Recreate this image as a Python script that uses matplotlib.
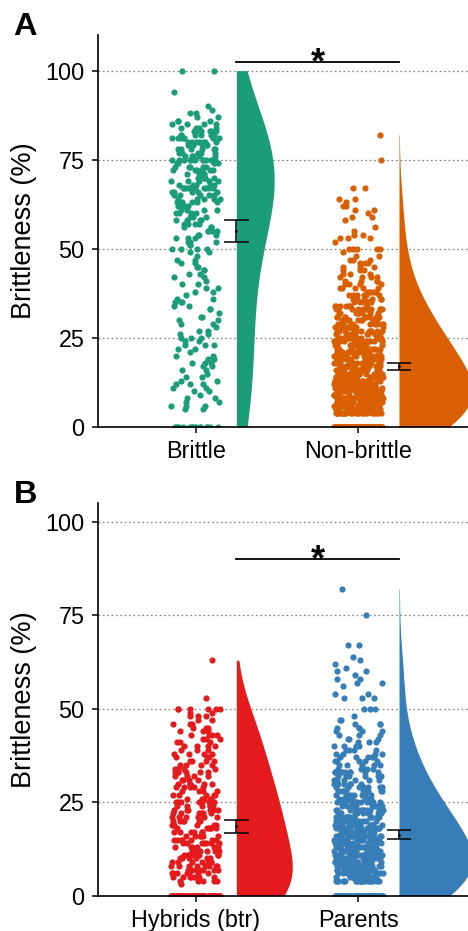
import numpy as np
import matplotlib
matplotlib.use('Agg')
import matplotlib.pyplot as plt
from matplotlib.mlab import GaussianKDE

plt.rcParams['font.family'] = ['Liberation Sans', 'DejaVu Sans']

# ---------------- data (counts of observations at each integer % value) -------------
cats_a = ['Brittle', 'Non-brittle']
colors_a = ['#1b9e77', '#d95f02']
brittle_counts = [16, 0, 0, 0, 0, 2, 3, 2, 2, 1,
                  2, 2, 3, 2, 2, 1, 2, 2, 3, 2,
                  2, 1, 2, 3, 2, 3, 2, 2, 1, 2,
                  2, 2, 1, 2, 2, 3, 2, 1, 2, 2,
                  2, 1, 2, 2, 2, 2, 2, 2, 1, 2,
                  4, 2, 3, 3, 3, 4, 3, 4, 4, 3,
                  4, 4, 4, 5, 5, 5, 5, 10, 5, 5,
                  6, 5, 6, 5, 5, 11, 5, 5, 6, 6,
                  7, 7, 6, 6, 4, 4, 3, 2, 2, 1,
                  1, 0, 0, 0, 1, 0, 0, 0, 0, 0,
                  2]
nonbrittle_counts = [115, 0, 0, 0, 24, 26, 25, 25, 25, 24,
                     24, 23, 23, 22, 21, 21, 20, 19, 18, 18,
                     17, 16, 15, 15, 13, 18, 12, 11, 11, 10,
                     10, 9, 8, 12, 7, 7, 6, 6, 5, 5,
                     4, 4, 4, 3, 3, 3, 3, 3, 2, 1,
                     5, 0, 1, 3, 2, 1, 1, 0, 1, 2,
                     1, 2, 2, 1, 2, 0, 0, 2, 0, 0,
                     0, 0, 0, 0, 0, 1, 0, 0, 0, 0,
                     0, 0, 1]
mean_a = [55.0, 17.0]
lo_a = [51.8, 16.0]
hi_a = [58.0, 17.9]
sig_a = 102.3

cats_b = ['Hybrids (btr)', 'Parents']
colors_b = ['#e41a1c', '#377eb8']
hybrid_counts = [80, 0, 0, 1, 5, 7, 7, 7, 8, 7,
                 7, 7, 7, 7, 7, 7, 6, 6, 6, 6,
                 6, 6, 6, 6, 6, 8, 5, 5, 4, 5,
                 5, 4, 4, 6, 4, 4, 4, 3, 4, 3,
                 4, 3, 3, 4, 3, 3, 3, 2, 3, 2,
                 6, 0, 0, 1, 0, 0, 0, 0, 0, 0,
                 0, 0, 0, 1]
parent_counts = [105, 0, 0, 0, 22, 23, 23, 22, 22, 22,
                 21, 21, 20, 20, 19, 18, 18, 17, 16, 15,
                 14, 14, 13, 12, 11, 15, 10, 9, 9, 8,
                 8, 7, 6, 10, 5, 5, 5, 5, 4, 4,
                 4, 3, 3, 3, 3, 3, 3, 2, 1, 0,
                 3, 0, 0, 3, 2, 0, 1, 2, 2, 1,
                 2, 1, 1, 1, 1, 0, 0, 2, 0, 0,
                 0, 0, 0, 0, 0, 1, 0, 0, 0, 0,
                 0, 0, 1]
mean_b = [18.6, 16.3]
lo_b = [16.8, 15.2]
hi_b = [20.3, 17.5]
sig_b = 90.2

yticks = [0, 25, 50, 75, 100]

# ---------------- drawing ----------------
W, H = 468, 931
fig = plt.figure(figsize=(W / 100, H / 100), dpi=100)

left = 97.7 / W
width = 1 - left
axA = fig.add_axes([left, 1 - 427 / H, width, 392 / H])
axB = fig.add_axes([left, 1 - 895.7 / H, width, 392.4 / H])

ADJUST = 2.0
JIT = 0.15
NUDGE = 0.25
VW = 0.9


def expand(counts):
    return np.repeat(np.arange(len(counts)), counts).astype(float)


def density(d):
    n = len(d)
    sd = d.std(ddof=1)
    iqr = np.subtract(*np.percentile(d, [75, 25]))
    lo = min(sd, iqr / 1.34) if iqr > 0 else sd
    bw = ADJUST * 0.9 * lo * n ** (-0.2)
    kde = GaussianKDE(d, bw_method=bw / sd)
    y = np.linspace(d.min(), d.max(), 512)
    return y, kde.evaluate(y)


def panel(ax, cats, colors, counts_list, means, los, his, sig, ytop, seed):
    rng = np.random.default_rng(seed)
    datas = [expand(c) for c in counts_list]
    dens = [density(d) for d in datas]
    dmax = max(dd[1].max() for dd in dens)
    for i, (d, (yy, dd), c) in enumerate(zip(datas, dens, colors)):
        x = i + 1
        ax.fill_betweenx(yy, x + NUDGE, x + NUDGE + VW / 2 * dd / dmax,
                         color=c, lw=0, zorder=2)
        xj = x + rng.uniform(-JIT, JIT, len(d))
        ax.scatter(xj, d, s=20, color=c, lw=0, zorder=3)
        xe = x + NUDGE
        ax.vlines(xe, los[i], his[i], color='black', lw=1.1, zorder=5)
        ax.hlines([los[i], his[i]], xe - 0.075, xe + 0.075, color='black',
                  lw=1.1, zorder=5)
        ax.scatter([xe], [means[i]], s=4, color='black', zorder=6, lw=0)
    ax.plot([1 + NUDGE, 2 + NUDGE], [sig, sig], color='black', lw=1.3,
            clip_on=False, zorder=6)
    ax.text(1.5 + NUDGE, sig - 3.1, '*', ha='center', va='baseline',
            fontsize=26, fontweight='bold', zorder=6)
    ax.set_xlim(0.398, 2.674)
    ax.set_ylim(0, ytop)
    ax.set_yticks(yticks)
    ax.set_xticks([1, 2])
    ax.set_xticklabels(cats)
    for t in yticks[1:]:
        ax.axhline(t, color='#7f7f7f', lw=0.9, ls=(0, (1.3, 2.2)), zorder=1)
    for s in ['top', 'right']:
        ax.spines[s].set_visible(False)
    for s in ['left', 'bottom']:
        ax.spines[s].set_linewidth(1.2)
        ax.spines[s].set_zorder(7)
    ax.tick_params(axis='both', length=4.5, width=1.1, labelsize=16.8,
                   colors='black', pad=5)
    ax.set_ylabel('Brittleness (%)', fontsize=19.5, labelpad=6)


panel(axA, cats_a, colors_a, [brittle_counts, nonbrittle_counts],
      mean_a, lo_a, hi_a, sig_a, 110, 3)
panel(axB, cats_b, colors_b, [hybrid_counts, parent_counts],
      mean_b, lo_b, hi_b, sig_b, 105, 7)

fig.text(13 / W, 1 - 35 / H, 'A', fontsize=23.4, fontweight='bold',
         ha='left', va='baseline')
fig.text(14 / W, 1 - 503 / H, 'B', fontsize=23.4, fontweight='bold',
         ha='left', va='baseline')

fig.savefig('out.png', dpi=100)
